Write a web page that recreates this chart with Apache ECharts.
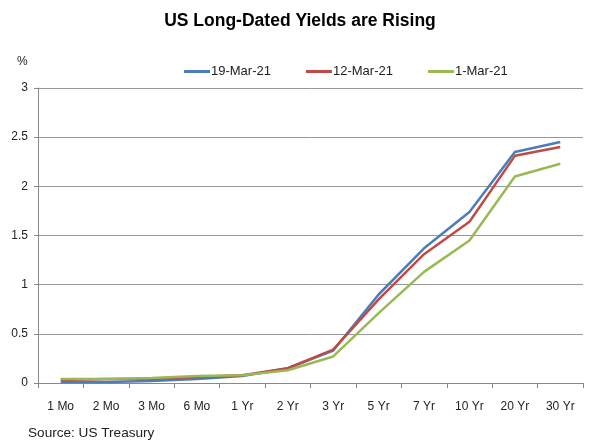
<!DOCTYPE html>
<html><head><meta charset="utf-8">
<script src="https://cdn.jsdelivr.net/npm/echarts@6/dist/echarts.min.js"></script>
<style>html,body{margin:0;padding:0;background:#fff}#c{width:600px;height:445px}</style>
</head><body><div id="c"></div>
<script>
const categories = ['1 Mo','2 Mo','3 Mo','6 Mo','1 Yr','2 Yr','3 Yr','5 Yr','7 Yr','10 Yr','20 Yr','30 Yr'];
const mar19 = [0.01,0.01,0.02,0.04,0.07,0.15,0.33,0.90,1.37,1.74,2.35,2.45];
const mar12 = [0.03,0.04,0.04,0.06,0.08,0.15,0.34,0.85,1.31,1.64,2.31,2.40];
const mar01 = [0.04,0.04,0.05,0.07,0.08,0.13,0.27,0.71,1.13,1.45,2.10,2.23];
const seriesNames = ['19-Mar-21','12-Mar-21','1-Mar-21'];
const colors = ['#4a7ebb','#be4b48','#98b954'];
const chart = echarts.init(document.getElementById('c'));
const font = 'Liberation Sans, Arial, sans-serif';
function mk(name, data, i){
  return {name, type:'line', data, symbol:'none', smooth:false,
    lineStyle:{width:2.5,color:colors[i]}, itemStyle:{color:colors[i]}};
}
chart.setOption({
  animation:false,
  title:{text:'US Long-Dated Yields are Rising', left:'center', top:7,
    textStyle:{fontFamily:font, fontSize:17.5, fontWeight:'bold', color:'#000'}},
  legend:{top:60, left:179, itemWidth:26, itemHeight:3, itemGap:35, icon:'rect',
    textStyle:{fontFamily:font, fontSize:13, color:'#222', padding:[0,0,0,-4]},
    data:seriesNames},
  graphic:[
    {type:'text', left:17, top:56, style:{text:'%', font:'12px '+font, fill:'#222'}},
    {type:'text', left:28, top:426, style:{text:'Source: US Treasury', font:'13.6px '+font, fill:'#222'}}
  ],
  grid:{left:38, right:17, top:88, bottom:62},
  xAxis:{type:'category', data:categories, boundaryGap:true,
    axisLine:{lineStyle:{color:'#888'}},
    axisTick:{show:true, inside:false, length:5, lineStyle:{color:'#888'}},
    axisLabel:{fontFamily:font, fontSize:12, color:'#222', margin:18}},
  yAxis:{type:'value', min:0, max:3, interval:0.5,
    axisLine:{show:true, lineStyle:{color:'#888'}},
    axisTick:{show:true, length:4, lineStyle:{color:'#888'}},
    splitLine:{lineStyle:{color:'#999'}},
    axisLabel:{fontFamily:font, fontSize:12, color:'#222', margin:10}},
  series:[mk(seriesNames[0],mar19,0), mk(seriesNames[1],mar12,1), mk(seriesNames[2],mar01,2)]
});
</script></body></html>
